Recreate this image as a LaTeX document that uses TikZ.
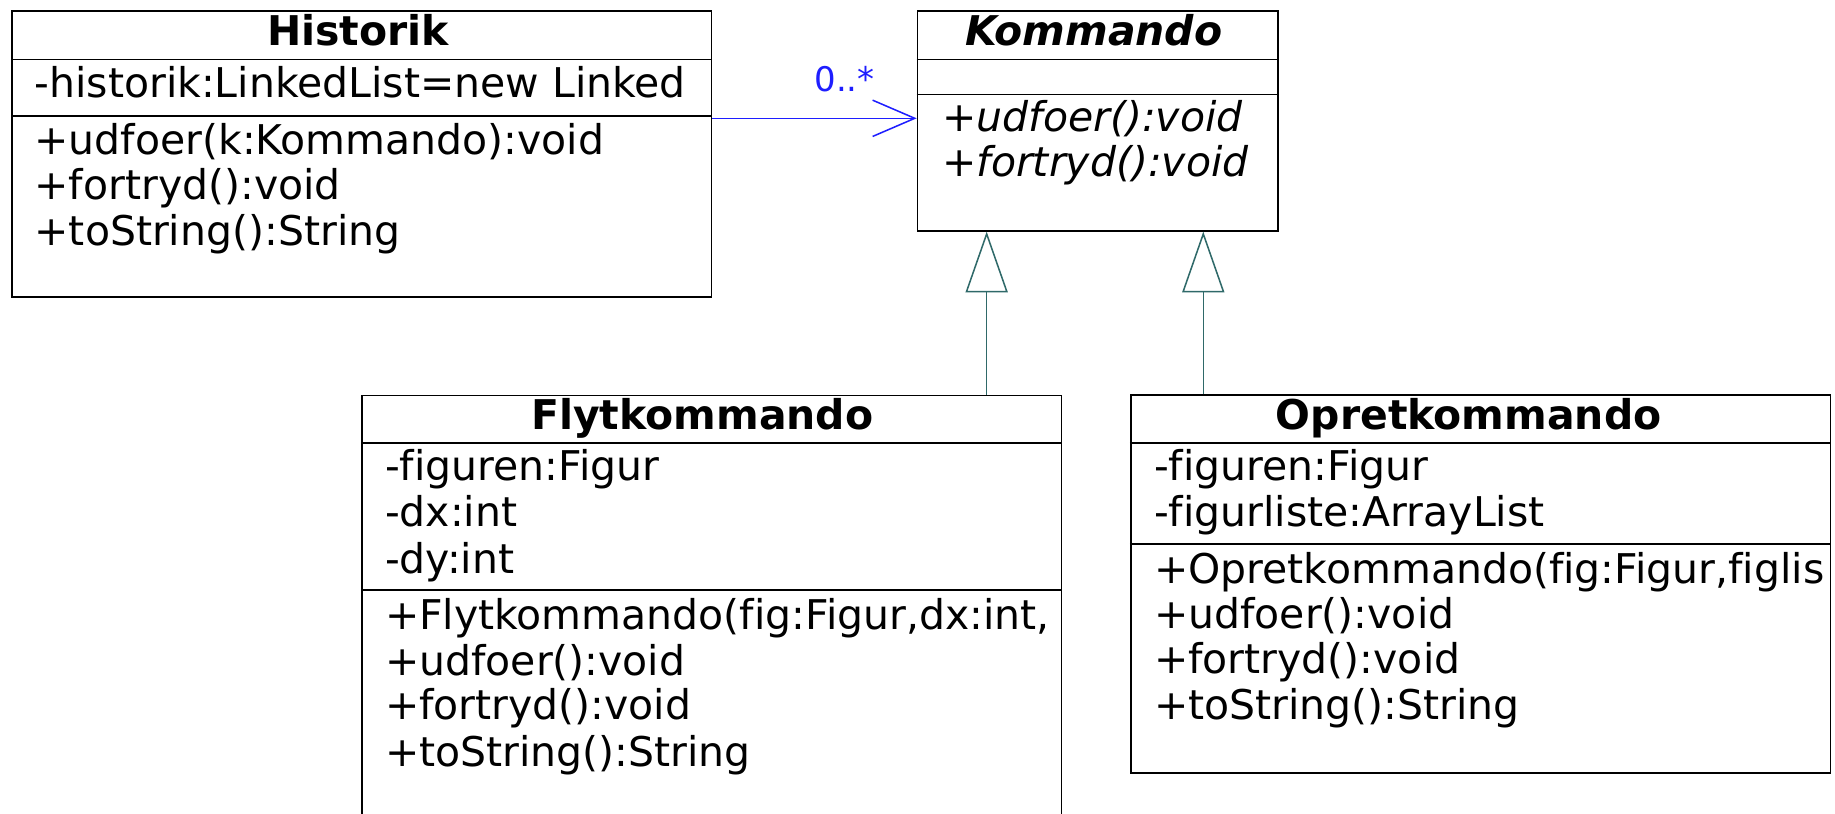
\documentclass[tikz,border=0pt]{standalone}
\usepackage{fontspec}
\setmainfont{DejaVu Sans}[Ligatures=NoCommon]
\usetikzlibrary{arrows.meta}
\definecolor{assocblue}{RGB}{30,30,255}
\definecolor{genteal}{RGB}{47,105,105}
\tikzset{
  classbox/.style={draw=black, line width=1.4pt, rectangle, inner sep=0pt, anchor=north west},
  sepline/.style={draw=black, line width=1.4pt},
  txt/.style={anchor=base west, inner sep=0pt, font=\fontsize{35}{40}\selectfont},
  itxt/.style={anchor=base west, inner sep=0pt, font=\fontsize{35}{40}\selectfont\itshape},
  ttl/.style={anchor=base, inner sep=0pt, font=\fontsize{35}{40}\selectfont\bfseries},
  ittl/.style={anchor=base, inner sep=0pt, font=\fontsize{35}{40}\selectfont\bfseries\itshape},
  multlabel/.style={anchor=base west, inner sep=0pt, text=assocblue, font=\fontsize{29}{32}\selectfont},
  assoc/.style={draw=assocblue, line width=1.3pt, -{Straight Barb[length=36pt,width=31pt,line width=1.3pt]}},
  gen/.style={draw=genteal, line width=1.3pt, -{Triangle[open,length=52pt,width=36pt,fill=white,line width=1.3pt]}},
}
\begin{document}
\begin{tikzpicture}[x=1pt,y=-1pt]
\useasboundingbox (0,0) rectangle (1568,695);
\fill[white] (0,0) rectangle (1568,695);
\begin{scope}
\clip (0,0) rectangle (1568,695);

% ---------- Historik ----------
\node[classbox, minimum width=598pt, minimum height=244.4pt] (hist) at (9.4,8.5) {};
\draw[sepline] (hist.west |- 0,50.7) -- (hist.east |- 0,50.7);
\draw[sepline] (hist.west |- 0,98.9) -- (hist.east |- 0,98.9);
\begin{scope}
\clip (hist.north west) rectangle (hist.south east);
\node[ttl] (histT) at (306,39.3) {Historik};
\node[txt] (histA1) at (29.4,83.2) {-historik:LinkedList=new Linked};
\node[txt] (histM1) at (29.4,131.6) {+udfoer(k:Kommando):void};
\node[txt] (histM2) at (29.4,170.5) {+fortryd():void};
\node[txt] (histM3) at (29.4,209.4) {+toString():String};
\end{scope}

% ---------- Kommando ----------
\node[classbox, minimum width=308.1pt, minimum height=188pt] (kom) at (783.3,8.5) {};
\draw[sepline] (kom.west |- 0,50.7) -- (kom.east |- 0,50.7);
\draw[sepline] (kom.west |- 0,80.6) -- (kom.east |- 0,80.6);
\node[ittl] (komT) at (934.5,39.3) {Kommando};
\node[itxt] (komM1) at (805,112.5) {+udfoer():void};
\node[itxt] (komM2) at (805,151) {+fortryd():void};

% ---------- Flytkommando ----------
\node[classbox, minimum width=597.7pt, minimum height=390pt] (flyt) at (308.6,337.3) {};
\draw[sepline] (flyt.west |- 0,378.3) -- (flyt.east |- 0,378.3);
\draw[sepline] (flyt.west |- 0,504.1) -- (flyt.east |- 0,504.1);
\begin{scope}
\clip (flyt.north west) rectangle (flyt.south east);
\node[ttl] (flytT) at (600,366.9) {Flytkommando};
\node[txt] (flytA1) at (328.8,410.2) {-figuren:Figur};
\node[txt] (flytA2) at (328.8,450) {-dx:int};
\node[txt] (flytA3) at (328.8,489.9) {-dy:int};
\node[txt] (flytM1) at (328.8,538.3) {+Flytkommando(fig:Figur,dx:int,};
\node[txt] (flytM2) at (328.8,576.8) {+udfoer():void};
\node[txt] (flytM3) at (328.8,615.2) {+fortryd():void};
\node[txt] (flytM4) at (328.8,655.1) {+toString():String};
\end{scope}

% ---------- Opretkommando ----------
\node[classbox, minimum width=598pt, minimum height=323pt] (opret) at (965.5,337) {};
\draw[sepline] (opret.west |- 0,378.3) -- (opret.east |- 0,378.3);
\draw[sepline] (opret.west |- 0,465.1) -- (opret.east |- 0,465.1);
\begin{scope}
\clip (opret.north west) rectangle (opret.south east);
\node[ttl] (opretT) at (1255,367.4) {Opretkommando};
\node[txt] (opretA1) at (986,410.2) {-figuren:Figur};
\node[txt] (opretA2) at (986,450) {-figurliste:ArrayList};
\node[txt] (opretM1) at (986,498.4) {+Opretkommando(fig:Figur,figlis};
\node[txt] (opretM2) at (986,536.9) {+udfoer():void};
\node[txt] (opretM3) at (986,575.4) {+fortryd():void};
\node[txt] (opretM4) at (986,615.2) {+toString():String};
\end{scope}

% ---------- Association ----------
\draw[assoc] ([yshift=-92.6pt]hist.north east) -- ([yshift=-92.6pt]kom.north west)
  node[multlabel, at end, xshift=-88pt, yshift=23.3pt] (mult) {0..*};

% ---------- Generalizations ----------
\coordinate (g1) at (843.1,0);
\coordinate (g2) at (1028.2,0);
\draw[gen] (g1 |- flyt.north) -- (g1 |- kom.south);
\draw[gen] (g2 |- opret.north) -- (g2 |- kom.south);
\end{scope}
\end{tikzpicture}
\end{document}
